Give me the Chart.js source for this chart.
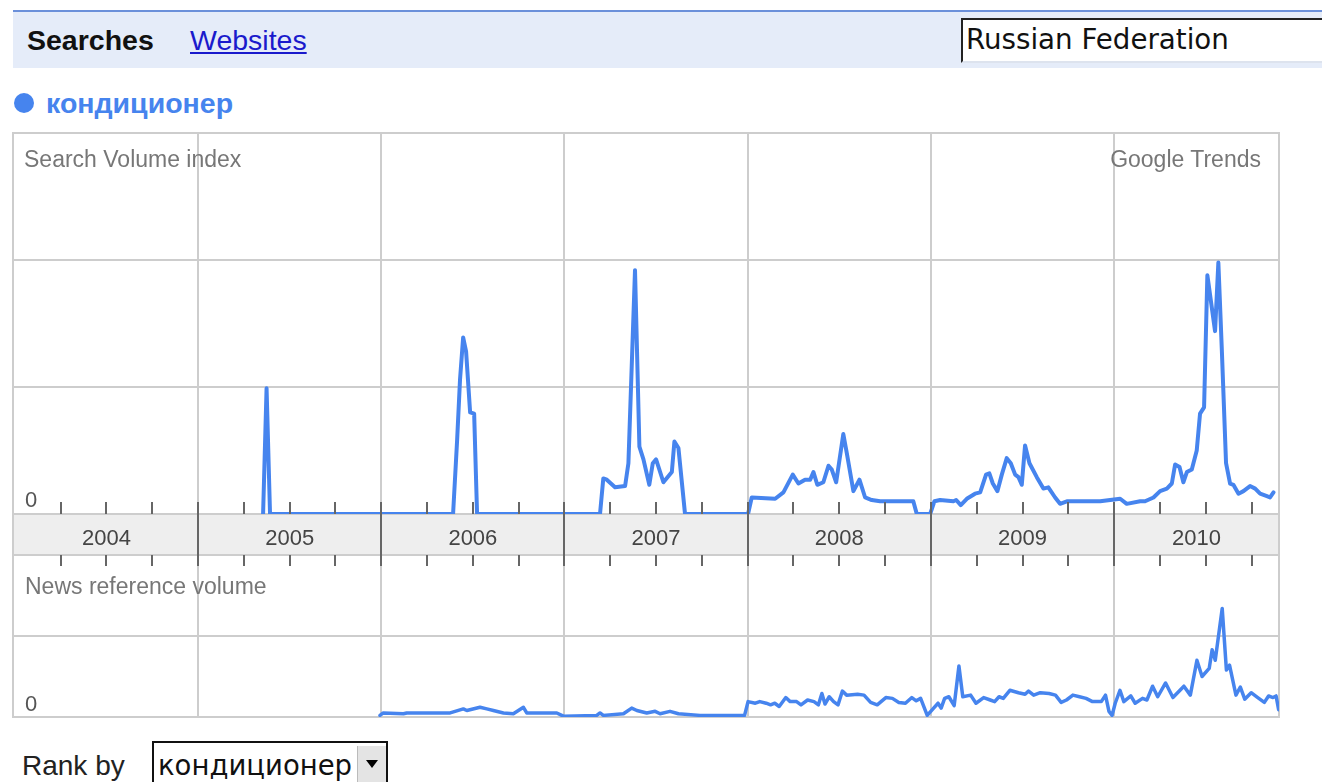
<!DOCTYPE html>
<html><head><meta charset="utf-8">
<script src="https://cdn.jsdelivr.net/npm/chart.js@4.4.0/dist/chart.umd.min.js"></script>
<style>
html,body{margin:0;padding:0;background:#fff;width:1322px;height:782px;overflow:hidden;font-family:"Liberation Sans",Arial,sans-serif;}
.t{position:absolute;white-space:nowrap;line-height:1;z-index:5;}
#hdr{position:absolute;left:13px;top:10px;width:1309px;height:56px;background:#e5ecf9;border-top:2px solid #6b90da;}
#inp{position:absolute;left:961px;top:18px;width:400px;height:41px;background:#fff;border-top:2px solid #222;border-left:2px solid #222;border-bottom:2px solid #dde3ee;}
#dot{position:absolute;left:14px;top:93px;width:20px;height:20px;border-radius:50%;background:#4684ee;}
#sel{position:absolute;left:152px;top:741px;width:232px;height:45px;border:2px solid #111;background:#fff;}
#btn{position:absolute;left:203px;top:3px;width:28px;height:36px;background:#e4e4e4;border-left:1px solid #bbb;}
#tri{position:absolute;left:8px;top:14px;width:0;height:0;border-left:6px solid transparent;border-right:6px solid transparent;border-top:8px solid #000;}
canvas{position:absolute;left:0;}
#c2{top:555px;z-index:1;}
#c1{top:119px;z-index:2;}
</style></head>
<body>
<div id="hdr"></div>
<div class="t" style="left:27px;top:26px;font-size:28.5px;font-weight:bold;color:#111;">Searches</div>
<div class="t" style="left:190px;top:26px;font-size:28.5px;color:#1a1acc;text-decoration:underline;">Websites</div>
<div id="inp"></div>
<div class="t" style="left:966px;top:26px;font-size:27.7px;font-family:'DejaVu Sans';color:#111;">Russian Federation</div>
<div id="dot"></div>
<div class="t" style="left:46px;top:89px;font-size:28.5px;font-weight:bold;color:#4684ee;">кондиционер</div>

<canvas id="c2" width="1322" height="171"></canvas>
<canvas id="c1" width="1322" height="451"></canvas>

<div class="t" style="left:24px;top:148px;font-size:23px;color:#777;">Search Volume index</div>
<div class="t" style="right:61px;top:148px;font-size:23px;color:#777;">Google Trends</div>
<div class="t" style="left:25px;top:489px;font-size:22px;color:#555;">0</div>
<div class="t" style="left:25px;top:575px;font-size:23px;color:#777;">News reference volume</div>
<div class="t" style="left:25px;top:693px;font-size:22px;color:#555;">0</div>

<div class="t" style="left:22px;top:752px;font-size:28px;color:#222;">Rank by</div>
<div id="sel"><div id="btn"><div id="tri"></div></div></div>
<div class="t" style="left:158px;top:752px;font-size:27.5px;font-family:'DejaVu Sans';color:#111;">кондиционер</div>

<script>
// ---- data (x = fractional year, y = index in grid units) ----
const years = [2004, 2005, 2006, 2007, 2008, 2009, 2010];
const yearLabels = ['2004', '2005', '2006', '2007', '2008', '2009', '2010'];

const searchDates = [
  2005.355, 2005.374, 2005.393,
  2006.392, 2006.414, 2006.430, 2006.447, 2006.463, 2006.485, 2006.507, 2006.523,
  2007.194, 2007.212, 2007.231, 2007.276, 2007.331, 2007.349, 2007.385, 2007.409, 2007.431, 2007.463, 2007.482, 2007.500, 2007.540, 2007.586, 2007.600, 2007.622, 2007.658,
  2008.002, 2008.022, 2008.150, 2008.195, 2008.246, 2008.277, 2008.313, 2008.341, 2008.359, 2008.380, 2008.413, 2008.441, 2008.459, 2008.483, 2008.522, 2008.541, 2008.577, 2008.610, 2008.641, 2008.677, 2008.723, 2008.741, 2008.904, 2008.923, 2008.996,
  2009.019, 2009.050, 2009.123, 2009.138, 2009.163, 2009.196, 2009.241, 2009.269, 2009.301, 2009.319, 2009.338, 2009.363, 2009.387, 2009.414, 2009.436, 2009.460, 2009.478, 2009.496, 2009.514, 2009.538, 2009.578, 2009.614, 2009.641, 2009.678, 2009.705, 2009.742, 2009.924,
  2010.033, 2010.069, 2010.142, 2010.169, 2010.215, 2010.251, 2010.288, 2010.315, 2010.333, 2010.357, 2010.378, 2010.397, 2010.424, 2010.451, 2010.469, 2010.491, 2010.509, 2010.551, 2010.569, 2010.588, 2010.611, 2010.633, 2010.651, 2010.679, 2010.706, 2010.742, 2010.770, 2010.797, 2010.834, 2010.851, 2010.870
];
const searchValues = [
  0, 0.99, 0,
  0, 0.58, 1.06, 1.39, 1.28, 0.80, 0.79, 0,
  0, 0.28, 0.27, 0.21, 0.22, 0.40, 1.92, 0.53, 0.43, 0.23, 0.40, 0.43, 0.25, 0.33, 0.57, 0.52, 0,
  0, 0.13, 0.12, 0.17, 0.31, 0.24, 0.27, 0.27, 0.33, 0.23, 0.25, 0.38, 0.35, 0.25, 0.63, 0.48, 0.18, 0.27, 0.13, 0.11, 0.10, 0.10, 0.10, 0, 0,
  0.10, 0.11, 0.10, 0.11, 0.07, 0.12, 0.16, 0.17, 0.31, 0.32, 0.24, 0.18, 0.31, 0.44, 0.40, 0.31, 0.29, 0.23, 0.54, 0.40, 0.29, 0.20, 0.21, 0.13, 0.08, 0.10, 0.10,
  0.12, 0.08, 0.10, 0.10, 0.13, 0.18, 0.20, 0.24, 0.39, 0.37, 0.25, 0.33, 0.35, 0.50, 0.79, 0.84, 1.88, 1.44, 1.98, 1.29, 0.40, 0.24, 0.23, 0.16, 0.18, 0.22, 0.20, 0.16, 0.14, 0.13, 0.17
];

const newsDates = [
  2005.993, 2006.011, 2006.121, 2006.139, 2006.212, 2006.303, 2006.376, 2006.448, 2006.467, 2006.539, 2006.576, 2006.612, 2006.667, 2006.721, 2006.776, 2006.794, 2006.849, 2006.958, 2006.994,
  2007.176, 2007.194, 2007.212, 2007.322, 2007.367, 2007.395, 2007.449, 2007.495, 2007.522, 2007.576, 2007.622, 2007.740, 2007.849, 2007.983,
  2008.002, 2008.042, 2008.066, 2008.101, 2008.125, 2008.148, 2008.172, 2008.208, 2008.232, 2008.267, 2008.291, 2008.327, 2008.362, 2008.386, 2008.405, 2008.422, 2008.445, 2008.469, 2008.493, 2008.517, 2008.540, 2008.600, 2008.635, 2008.671, 2008.707, 2008.754, 2008.790, 2008.825, 2008.861, 2008.896, 2008.920, 2008.944, 2008.980,
  2009.015, 2009.039, 2009.056, 2009.075, 2009.098, 2009.127, 2009.153, 2009.174, 2009.217, 2009.246, 2009.288, 2009.324, 2009.348, 2009.372, 2009.395, 2009.431, 2009.478, 2009.514, 2009.533, 2009.561, 2009.597, 2009.645, 2009.680, 2009.711, 2009.740, 2009.775, 2009.811, 2009.847, 2009.882, 2009.930, 2009.953, 2009.972, 2009.989,
  2010.006, 2010.032, 2010.053, 2010.091, 2010.115, 2010.155, 2010.179, 2010.210, 2010.238, 2010.281, 2010.321, 2010.381, 2010.416, 2010.452, 2010.480, 2010.519, 2010.535, 2010.552, 2010.590, 2010.613, 2010.630, 2010.665, 2010.689, 2010.713, 2010.748, 2010.784, 2010.820, 2010.843, 2010.867, 2010.884, 2010.898
];
const newsValues = [
  0.02, 0.05, 0.04, 0.05, 0.05, 0.05, 0.05, 0.10, 0.08, 0.12, 0.10, 0.08, 0.05, 0.04, 0.12, 0.05, 0.05, 0.05, 0.01,
  0.02, 0.05, 0.02, 0.04, 0.11, 0.08, 0.05, 0.07, 0.04, 0.07, 0.04, 0.02, 0.02, 0.02,
  0.19, 0.17, 0.19, 0.17, 0.15, 0.17, 0.13, 0.24, 0.19, 0.19, 0.15, 0.21, 0.19, 0.15, 0.29, 0.16, 0.25, 0.19, 0.15, 0.32, 0.27, 0.28, 0.27, 0.18, 0.15, 0.24, 0.23, 0.18, 0.17, 0.24, 0.20, 0.23, 0.02,
  0.11, 0.17, 0.11, 0.23, 0.25, 0.14, 0.63, 0.25, 0.27, 0.17, 0.24, 0.21, 0.19, 0.25, 0.23, 0.33, 0.30, 0.28, 0.32, 0.27, 0.30, 0.29, 0.27, 0.18, 0.21, 0.27, 0.25, 0.23, 0.19, 0.19, 0.27, 0.07, 0.02,
  0.17, 0.33, 0.19, 0.26, 0.17, 0.23, 0.21, 0.38, 0.25, 0.42, 0.24, 0.38, 0.27, 0.70, 0.50, 0.60, 0.83, 0.70, 1.34, 0.58, 0.64, 0.27, 0.37, 0.22, 0.30, 0.24, 0.18, 0.26, 0.24, 0.26, 0.09
];

// ---- chart setup ----
const X_MIN = 2003.99, X_MAX = 2010.90;
const BLUE = '#4684ee', GRID = '#cdcdcd';
const BAND_H = 41;

const toPts = (xs, ys) => xs.map((x, i) => ({ x: x, y: ys[i] }));

// label position: middle of the visible part of each year
const labelPos = years.map(y => (Math.max(y, X_MIN) + Math.min(y + 1, X_MAX)) / 2);
const quarterTicks = [];
years.forEach(y => [0, 0.25, 0.5, 0.75].forEach(q => {
  const v = y + q;
  if (v > X_MIN + 0.05 && v < X_MAX) quarterTicks.push(v);
}));

function yearGridColor(c) {
  const v = c.tick ? c.tick.value : null;
  return (v !== null && years.includes(v) && v > 2004.5) ? GRID : 'rgba(0,0,0,0)';
}

const framePlugin = {
  id: 'frame',
  beforeDatasetsDraw(chart, args, opts) {
    const { ctx, chartArea: a } = chart;
    ctx.save();
    ctx.strokeStyle = GRID;
    ctx.lineWidth = 2;
    ctx.strokeRect(a.left, a.top, a.right - a.left, a.bottom - a.top + (opts.extra || 0));
    ctx.restore();
  }
};

const bandPlugin = {
  id: 'band',
  beforeDraw(chart) {
    const { ctx, chartArea: a } = chart;
    ctx.save();
    ctx.fillStyle = '#eeeeee';
    ctx.fillRect(a.left, a.bottom, a.right - a.left, BAND_H);
    ctx.restore();
  },
  afterDraw(chart) {
    const { ctx, chartArea: a, scales: { x } } = chart;
    const top = a.bottom, bot = a.bottom + BAND_H;
    ctx.save();
    ctx.strokeStyle = GRID;
    ctx.lineWidth = 2;
    ctx.beginPath(); ctx.moveTo(a.left, bot); ctx.lineTo(a.right, bot); ctx.stroke();
    ctx.strokeStyle = '#666';
    ctx.lineWidth = 2;
    ctx.beginPath();
    quarterTicks.forEach(v => {
      const px = Math.round(x.getPixelForValue(v));
      ctx.moveTo(px, top - 12); ctx.lineTo(px, top);
      ctx.moveTo(px, bot); ctx.lineTo(px, bot + 11);
      if (v % 1 === 0) { ctx.moveTo(px, top); ctx.lineTo(px, bot); }
    });
    ctx.stroke();
    ctx.restore();
  }
};

Chart.defaults.font.family = '"Liberation Sans", Arial, sans-serif';

const lineStyle = { borderColor: BLUE, borderWidth: 4, pointRadius: 0, tension: 0, fill: false, borderJoinStyle: 'round', borderCapStyle: 'round' };

new Chart(document.getElementById('c1'), {
  type: 'line',
  data: { datasets: [Object.assign({ data: toPts(searchDates, searchValues) }, lineStyle)] },
  options: {
    responsive: false, animation: false, devicePixelRatio: 1,
    layout: { padding: { left: 13, right: 43, top: 14, bottom: 15 } },
    plugins: { legend: { display: false }, tooltip: { enabled: false }, frame: { extra: BAND_H } },
    scales: {
      x: {
        type: 'linear', min: X_MIN, max: X_MAX,
        afterBuildTicks: s => { s.ticks = years.filter(v => v >= X_MIN).map(v => ({ value: v })).concat(labelPos.map(v => ({ value: v }))); },
        afterFit: s => { s.height = BAND_H; s.paddingLeft = 0; s.paddingRight = 0; },
        grid: { drawTicks: false, color: yearGridColor, lineWidth: 2 },
        border: { display: false },
        ticks: {
          autoSkip: false, maxRotation: 0, padding: 12, color: '#444', font: { size: 22 },
          callback: v => { const i = labelPos.indexOf(v); return i >= 0 ? yearLabels[i] : ''; }
        }
      },
      y: {
        min: 0, max: 3,
        afterFit: s => { s.width = 0; },
        ticks: { display: false, stepSize: 1 },
        grid: { drawTicks: false, color: GRID, lineWidth: 2 },
        border: { display: false }
      }
    }
  },
  plugins: [bandPlugin, framePlugin]
});

new Chart(document.getElementById('c2'), {
  type: 'line',
  data: { datasets: [Object.assign({ data: toPts(newsDates, newsValues) }, lineStyle, { borderWidth: 3.5 })] },
  options: {
    responsive: false, animation: false, devicePixelRatio: 1,
    layout: { padding: { left: 13, right: 43, top: 0, bottom: 9 } },
    plugins: { legend: { display: false }, tooltip: { enabled: false } },
    scales: {
      x: {
        type: 'linear', min: X_MIN, max: X_MAX,
        afterBuildTicks: s => { s.ticks = years.filter(v => v >= X_MIN).map(v => ({ value: v })); },
        afterFit: s => { s.height = 0; s.paddingLeft = 0; s.paddingRight = 0; },
        grid: { drawTicks: false, color: yearGridColor, lineWidth: 2 },
        border: { display: false },
        ticks: { display: false }
      },
      y: {
        min: 0, max: 2,
        afterFit: s => { s.width = 0; },
        ticks: { display: false, stepSize: 1 },
        grid: { drawTicks: false, color: GRID, lineWidth: 2 },
        border: { display: false }
      }
    }
  },
  plugins: [framePlugin]
});
</script>
</body></html>
